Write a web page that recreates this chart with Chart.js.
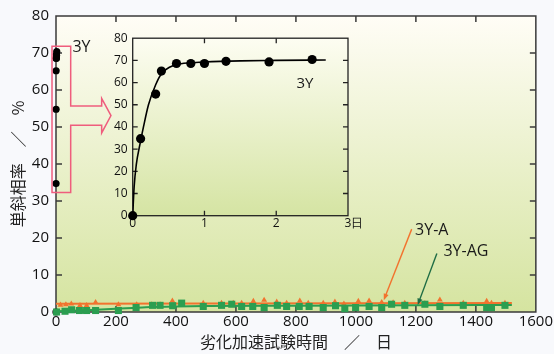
<!DOCTYPE html>
<html><head><meta charset="utf-8">
<script src="https://cdn.jsdelivr.net/npm/chart.js@4"></script>
<style>
html,body{margin:0;padding:0;background:#f8f9fc;}
#wrap{position:relative;width:554px;height:354px;overflow:hidden;}
#main{position:absolute;left:0;top:0;}
#inset{position:absolute;left:100px;top:26px;}
</style></head><body>
<div id="wrap"><canvas id="main" width="554" height="354"></canvas><canvas id="inset" width="272" height="206"></canvas></div>
<script>
// ---- data ----
const days3Y = [0, 0.11, 0.32, 0.40, 0.61, 0.81, 1.0, 1.30, 1.90, 2.50];
const rate3Y = [0, 34.7, 54.8, 65.2, 68.6, 68.6, 68.6, 69.6, 69.3, 70.4];
const fitDays3Y = [0, 0.02, 0.05, 0.1, 0.15, 0.22, 0.32, 0.4, 0.52, 0.61, 0.8, 1.0, 1.5, 2.0, 2.69];
const fitRate3Y = [0, 13, 23, 32, 40, 50, 59, 64, 67, 68.1, 68.9, 69.3, 69.8, 70.0, 70.2];

const daysA = [15, 33, 51, 80, 102, 132, 208, 269, 319, 347, 388, 491, 552, 591, 619, 658, 694, 736, 769, 813, 841, 891, 930, 960, 1008, 1044, 1086, 1124, 1163, 1230, 1280, 1358, 1436, 1452, 1497];
const rateA = [1.9, 2.0, 2.2, 1.8, 1.8, 2.6, 2.0, 2.0, 2.0, 2.0, 3.0, 2.4, 2.4, 2.4, 2.4, 2.9, 3.2, 2.7, 2.4, 3.0, 2.4, 2.4, 2.7, 2.2, 2.9, 3.0, 2.6, 2.5, 2.4, 2.3, 3.3, 2.4, 2.9, 2.4, 2.4];
const fitDaysA = [0, 1520];
const fitRateA = [2.2, 2.4];

const daysAG = [2, 30, 52, 78, 102, 132, 208, 267, 322, 347, 389, 419, 491, 552, 586, 619, 656, 694, 738, 769, 811, 844, 891, 932, 963, 999, 1044, 1086, 1119, 1163, 1230, 1280, 1358, 1436, 1452, 1497];
const rateAG = [0, 0.2, 0.6, 0.4, 0.4, 0.4, 0.4, 1.2, 1.8, 1.8, 1.7, 2.4, 1.5, 1.8, 2.1, 1.5, 1.5, 1.2, 1.8, 1.5, 1.5, 1.5, 1.2, 1.7, 0.9, 1.2, 1.5, 1.2, 2.1, 1.8, 2.1, 1.5, 1.8, 1.2, 1.2, 1.8];
const fitDaysAG = [0, 100, 200, 300, 400, 500, 800, 1200, 1520];
const fitRateAG = [0.2, 0.5, 0.9, 1.3, 1.5, 1.6, 1.7, 1.8, 1.9];

const mainXTicks = [0, 200, 400, 600, 800, 1000, 1200, 1400, 1600];
const mainYTicks = [0, 10, 20, 30, 40, 50, 60, 70, 80];
const insetXTicks = [0, 1, 2, 3];
const insetYTicks = [0, 10, 20, 30, 40, 50, 60, 70, 80];

const xTitle = '劣化加速試験時間　／　日';
const yTitle = '単斜相率　／　%';
const label3Y = '3Y', labelA = '3Y-A', labelAG = '3Y-AG', dayUnit = '日';

// ---- helpers ----
const pts = (xs, ys) => xs.map((x, i) => ({x: x, y: ys[i]}));
const ORANGE = '#f2732e', GREEN = '#2b9e50', PINK = '#ef5d7d', DKGREEN = '#1e6c44';
const NUM_FONT = '"Open Sans", "DejaVu Sans", sans-serif';
const CJK_FONT = '"Noto Sans CJK JP", sans-serif';

function drawFrame(chart, xTicks, yTicks, len, color, lw) {
  const {ctx, chartArea: a, scales: {x, y}} = chart;
  ctx.save();
  ctx.strokeStyle = color; ctx.lineWidth = lw;
  ctx.beginPath();
  xTicks.forEach(v => {
    const px = x.getPixelForValue(v);
    if (px <= a.left + 1 || px >= a.right - 1) return;
    ctx.moveTo(px, a.bottom); ctx.lineTo(px, a.bottom - len);
    ctx.moveTo(px, a.top); ctx.lineTo(px, a.top + len);
  });
  yTicks.forEach(v => {
    const py = y.getPixelForValue(v);
    if (py >= a.bottom - 1 || py <= a.top + 1) return;
    ctx.moveTo(a.left, py); ctx.lineTo(a.left + len, py);
    ctx.moveTo(a.right, py); ctx.lineTo(a.right - len, py);
  });
  ctx.stroke();
  ctx.strokeRect(a.left, a.top, a.right - a.left, a.bottom - a.top);
  ctx.restore();
}
function fillGradient(chart, c1, c2) {
  const {ctx, chartArea: a} = chart;
  const g = ctx.createLinearGradient(0, a.top, 0, a.bottom);
  g.addColorStop(0, c1); g.addColorStop(1, c2);
  ctx.save(); ctx.fillStyle = g;
  ctx.fillRect(a.left, a.top, a.right - a.left, a.bottom - a.top);
  ctx.restore();
}
function arrow(ctx, x1, y1, x2, y2, color) {
  ctx.save();
  ctx.strokeStyle = color; ctx.fillStyle = color; ctx.lineWidth = 1.4;
  const ang = Math.atan2(y2 - y1, x2 - x1), L = 7, W = 0.38;
  ctx.beginPath(); ctx.moveTo(x1, y1);
  ctx.lineTo(x2 - Math.cos(ang) * L * 0.7, y2 - Math.sin(ang) * L * 0.7); ctx.stroke();
  ctx.beginPath(); ctx.moveTo(x2, y2);
  ctx.lineTo(x2 - L * Math.cos(ang - W), y2 - L * Math.sin(ang - W));
  ctx.lineTo(x2 - L * Math.cos(ang + W), y2 - L * Math.sin(ang + W));
  ctx.closePath(); ctx.fill();
  ctx.restore();
}

const mainPlugin = {
  id: 'mainDeco',
  beforeDraw(chart) { fillGradient(chart, '#fffdf6', '#d5e4a0'); },
  beforeDatasetsDraw(chart) { drawFrame(chart, mainXTicks, mainYTicks, 6, '#3a3a3a', 1.5); },
  afterDatasetsDraw(chart) {
    const {ctx, scales: {x, y}} = chart;
    const X = v => x.getPixelForValue(v), Y = v => y.getPixelForValue(v);
    // pink callout (rectangle + block arrow)
    const outline = [[-13.3, 71.8], [49, 71.8], [49, 55.65], [152.3, 55.65], [152.3, 57.7], [183.3, 53.1],
                     [152.3, 48.4], [152.3, 50.5], [49, 50.5], [49, 32.3], [-13.3, 32.3]];
    ctx.save();
    ctx.strokeStyle = PINK; ctx.lineWidth = 1.5;
    ctx.beginPath();
    outline.forEach((p, i) => i ? ctx.lineTo(X(p[0]), Y(p[1])) : ctx.moveTo(X(p[0]), Y(p[1])));
    ctx.closePath(); ctx.stroke();
    ctx.restore();
    arrow(ctx, X(1186), Y(22.4), X(1093), Y(3.2), ORANGE);
    arrow(ctx, X(1270), Y(15.8), X(1206), Y(1.9), DKGREEN);
    ctx.save();
    ctx.fillStyle = '#1a1a1a'; ctx.textBaseline = 'middle'; ctx.textAlign = 'center';
    ctx.font = '16px ' + NUM_FONT;
    ctx.fillText(label3Y, X(85), Y(71.5));
    ctx.fillText(labelA, X(1253), Y(22.1));
    ctx.fillText(labelAG, X(1367), Y(16.3));
    ctx.restore();
  }
};

const insetPlugin = {
  id: 'insetDeco',
  beforeDraw(chart) { fillGradient(chart, '#fdfdf2', '#d5e4a3'); },
  beforeDatasetsDraw(chart) { drawFrame(chart, insetXTicks, insetYTicks, 5, '#222', 1.3); },
  afterDatasetsDraw(chart) {
    const {ctx, scales: {x, y}} = chart;
    ctx.save();
    ctx.fillStyle = '#1a1a1a'; ctx.textBaseline = 'middle'; ctx.textAlign = 'center';
    ctx.font = '15px ' + NUM_FONT;
    ctx.fillText(label3Y, x.getPixelForValue(2.4), y.getPixelForValue(59.4));
    ctx.restore();
  }
};

function build() {
  new Chart(document.getElementById('main'), {
    type: 'scatter',
    data: {datasets: [
      {data: pts(daysAG, rateAG), pointStyle: 'rect', pointRadius: 5, backgroundColor: GREEN, borderWidth: 0, showLine: false, clip: false},
      {data: pts(fitDaysAG, fitRateAG), showLine: true, borderColor: GREEN, borderWidth: 2, pointRadius: 0, cubicInterpolationMode: 'monotone'},
      {data: pts(daysA, rateA), pointStyle: 'triangle', pointRadius: 3.4, backgroundColor: ORANGE, borderWidth: 0, showLine: false, clip: false},
      {data: pts(fitDaysA, fitRateA), showLine: true, borderColor: ORANGE, borderWidth: 2, pointRadius: 0},
      {data: pts(days3Y, rate3Y), pointStyle: 'circle', pointRadius: 3.6, backgroundColor: '#000', borderWidth: 0, showLine: false, clip: false}
    ]},
    options: {
      responsive: false, animation: false, devicePixelRatio: 1,
      layout: {padding: {left: 0, right: 18, top: 14, bottom: 0}},
      plugins: {legend: {display: false}, tooltip: {enabled: false}},
      scales: {
        x: {type: 'linear', min: 0, max: 1600, afterFit: s => { s.height = 42; },
            grid: {display: false, drawTicks: false}, border: {display: false},
            ticks: {stepSize: 200, padding: 1, color: '#111', maxRotation: 0, autoSkip: false, font: {family: NUM_FONT, size: 15},
                    callback: v => String(v)},
            title: {display: true, text: xTitle, color: '#222', font: {family: CJK_FONT, size: 16}, padding: {top: 0, bottom: 2}}},
        y: {type: 'linear', min: 0, max: 80, afterFit: s => { s.width = 56; },
            grid: {display: false, drawTicks: false}, border: {display: false},
            ticks: {stepSize: 10, padding: 7, color: '#111', font: {family: NUM_FONT, size: 15}, callback: v => String(v)},
            title: {display: true, text: yTitle, color: '#222', font: {family: CJK_FONT, size: 16}, padding: {top: 8, bottom: 0}}}
      }
    },
    plugins: [mainPlugin]
  });

  new Chart(document.getElementById('inset'), {
    type: 'scatter',
    data: {datasets: [
      {data: pts(days3Y, rate3Y), pointStyle: 'circle', pointRadius: 4.6, backgroundColor: '#000', borderWidth: 0, showLine: false, clip: false},
      {data: pts(fitDays3Y, fitRate3Y), showLine: true, borderColor: '#000', borderWidth: 1.6, pointRadius: 0, cubicInterpolationMode: 'monotone'}
    ]},
    options: {
      responsive: false, animation: false, devicePixelRatio: 1,
      layout: {padding: {left: 0, right: 24, top: 9.7, bottom: 0}},
      plugins: {legend: {display: false}, tooltip: {enabled: false}},
      scales: {
        x: {type: 'linear', min: 0, max: 3, afterFit: s => { s.height = 16.3; },
            grid: {display: false, drawTicks: false}, border: {display: false},
            ticks: {stepSize: 1, padding: 1, color: '#111', maxRotation: 0, autoSkip: false, font: {family: NUM_FONT, size: 12},
                    callback: v => v === 3 ? '\u30003' + dayUnit : String(v)}},
        y: {type: 'linear', min: 0, max: 80, afterFit: s => { s.width = 32.7; },
            grid: {display: false, drawTicks: false}, border: {display: false},
            ticks: {stepSize: 10, padding: 5, color: '#111', font: {family: NUM_FONT, size: 12}}}
      }
    },
    plugins: [insetPlugin]
  });
}

Promise.all([
  document.fonts.load('15px "Open Sans"'),
  document.fonts.load('16px "Noto Sans CJK JP"', '劣化加速試験時間単斜相率日')
]).catch(() => {}).then(build);
</script>
</body></html>
